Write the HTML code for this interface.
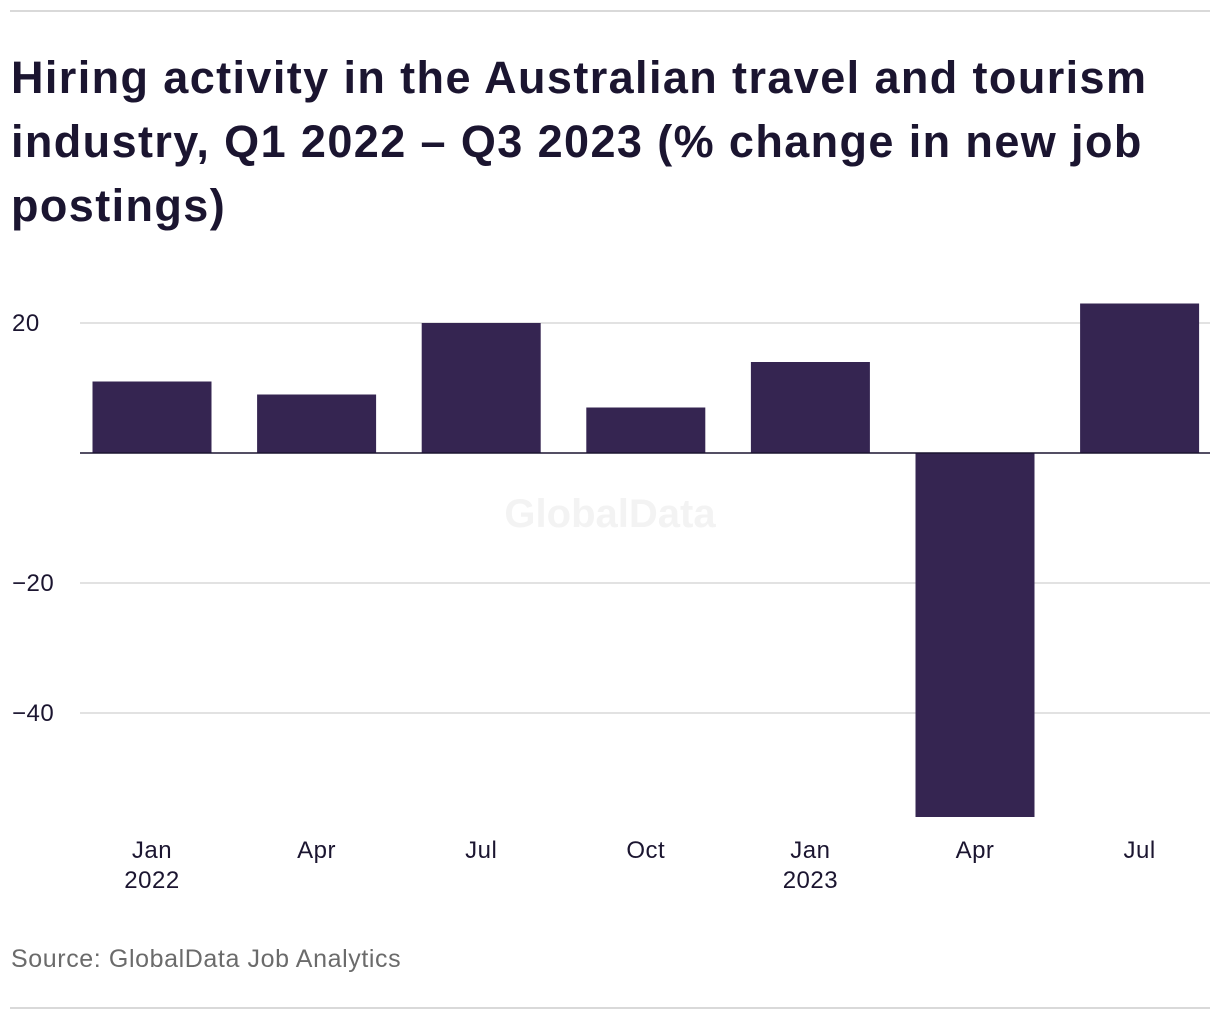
<!DOCTYPE html>
<html><head><meta charset="utf-8"><style>
body{margin:0;width:1220px;height:1020px;background:#fff;font-family:"Liberation Sans",sans-serif;position:relative;overflow:hidden}
.rule{position:absolute;left:10px;width:1200px;height:2px;background:#d9d9d9}
h1{position:absolute;left:11px;top:46px;margin:0;font-size:45px;line-height:64px;font-weight:bold;color:#1b1530;width:1210px;letter-spacing:1.4px;white-space:nowrap}
#src{position:absolute;left:11px;top:945px;font-size:25px;letter-spacing:0.6px;color:#6b6b6b}
svg{position:absolute;left:0;top:0}
</style></head><body>
<div class="rule" style="top:10px"></div>
<h1>Hiring activity in the Australian travel and tourism<br>industry, Q1 2022 – Q3 2023 (% change in new job<br>postings)</h1>
<svg id="chart" width="1220" height="1020"></svg>
<div id="src">Source: GlobalData Job Analytics</div>
<div class="rule" style="top:1007px"></div>
<script>
const categories=["Jan","Apr","Jul","Oct","Jan","Apr","Jul"];
const yearLabels=["2022","","","","2023","",""];
const values=[11,9,20,7,14,-56,23];
const yTicks=[20,-20,-40];
const NS="http://www.w3.org/2000/svg";
const svg=document.getElementById('chart');
function y(v){return 453-v*6.5;}
function xc(i){return 152+i*164.6;}
function el(t,a){const e=document.createElementNS(NS,t);for(const k in a)e.setAttribute(k,a[k]);svg.appendChild(e);return e;}
const wm=el('text',{x:610,y:527,'text-anchor':'middle','font-size':40,'font-weight':'bold',fill:'#f3f3f3','font-family':'Liberation Sans'});
wm.textContent='GlobalData';


yTicks.forEach(t=>{
 const g=el('line',{x1:80,x2:1210,y1:y(t),y2:y(t),stroke:'#d9d9d9','stroke-width':1.5});
 
 
 const l=el('text',{x:12,y:y(t)+8,'font-size':24,'letter-spacing':0.5,fill:'#1b1530','font-family':'Liberation Sans'});
 l.textContent=t<0?'−'+Math.abs(t):String(t);
 
 
});
values.forEach((v,i)=>{
 const b=el('rect',{x:xc(i)-59.5,width:119,y:Math.min(y(v),y(0)),height:Math.abs(y(v)-y(0)),fill:'#352551'});
 
 
 const t=el('text',{x:xc(i),y:858,'text-anchor':'middle','font-size':24,'letter-spacing':0.5,fill:'#1b1530','font-family':'Liberation Sans'});
 t.textContent=categories[i];
 
 
 if(yearLabels[i]){const yl=el('text',{x:xc(i),y:888,'text-anchor':'middle','font-size':24,'letter-spacing':0.5,fill:'#1b1530','font-family':'Liberation Sans'});
 yl.textContent=yearLabels[i];
 
 }
});
const z=el('line',{x1:80,x2:1210,y1:y(0),y2:y(0),stroke:'#1b1530','stroke-width':1.5});


</script>
</body></html>
